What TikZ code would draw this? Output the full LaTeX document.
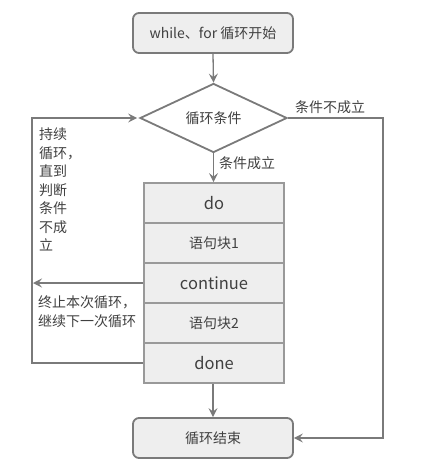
\documentclass[tikz,border=0pt]{standalone}
\usepackage{fontspec}
\setmainfont{Noto Sans CJK SC}
\usetikzlibrary{shapes.geometric,arrows.meta}
\definecolor{boxfill}{HTML}{EEEEEE}
\definecolor{darkline}{HTML}{7A7A7A}
\definecolor{lightline}{HTML}{999999}
\definecolor{txt}{HTML}{404040}
\tikzset{
  termbox/.style={draw=darkline, line width=1.8pt, fill=boxfill, rounded corners=6pt,
    minimum width=160pt, minimum height=40pt, inner sep=0pt, text=txt,
    font=\fontsize{14}{16}\selectfont},
  condbox/.style={draw=darkline, line width=1.8pt, fill=white, shape=diamond,
    minimum width=147pt, minimum height=58pt, inner sep=0pt, text=txt,
    font=\fontsize{14}{16}\selectfont},
  rowbox/.style={draw=lightline, line width=1.8pt, fill=boxfill,
    minimum width=140pt, minimum height=40pt, inner sep=0pt, text=txt},
  latinrow/.style={rowbox, font=\fontsize{16.5}{18}\selectfont},
  cjkrow/.style={rowbox, font=\fontsize{14}{16}\selectfont},
  conn/.style={draw=darkline, line width=1.3pt},
  arr/.style={conn, -{Stealth[length=9pt,width=9pt,inset=3.5pt]}},
  lbl/.style={text=txt, inner sep=0pt, font=\fontsize{14}{18.5}\selectfont, align=left}
}
\begin{document}
\begin{tikzpicture}[x=1pt,y=-1pt]
\useasboundingbox (0,0) rectangle (432,468);
\node[termbox] (start) at (213,33) {while、for 循环开始};
\node[condbox] (cond) at (213.5,118) {循环条件};
\node[latinrow] (do) at (214,203) {do};
\node[cjkrow] (b1) at (214,243) {语句块1};
\node[latinrow] (cont) at (214,283) {continue};
\node[cjkrow] (b2) at (214,323) {语句块2};
\node[latinrow] (done) at (214,363) {done};
\node[termbox] (end) at (213,438) {循环结束};

\coordinate (lb) at (32,363);
\coordinate (lt) at (32,118);
\coordinate (ca) at (33,283);
\coordinate (rt) at (383,118);
\coordinate (rb) at (383,438);

\draw[arr] (start.south) -- (cond.north);
\draw[arr] (cond.south) -- (do.north -| cond.south);
\draw[arr] (done.west) -- (lb) -- (lt) -- ([xshift=-2pt]cond.west);
\draw[arr] (cont.west) -- (ca);
\draw[arr] (cond.east) -- (rt) -- (rb) -- (end.east);
\draw[arr] (done.south -| end.north) -- (end.north);

\node[lbl, anchor=west] (lno) at (295,107) {条件不成立};
\node[lbl, anchor=west] (lyes) at (219,163) {条件成立};
\node[lbl, anchor=north west] (lloop) at (39,128) {持续\\循环，\\直到\\判断\\条件\\不成\\立};
\node[lbl, anchor=north west] (lcont) at (38,296) {终止本次循环，\\继续下一次循环};
\end{tikzpicture}
\end{document}
